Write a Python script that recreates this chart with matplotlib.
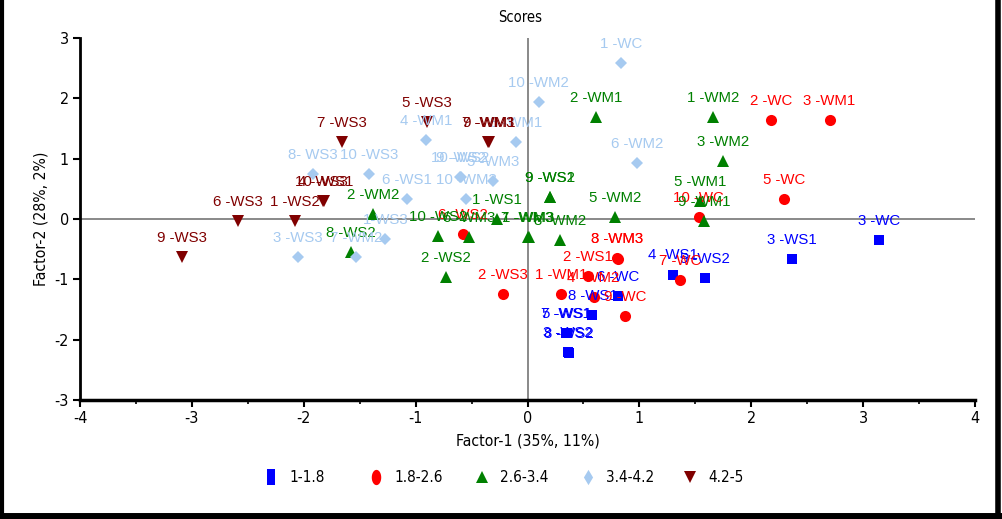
import matplotlib
matplotlib.use("Agg")
import matplotlib.pyplot as plt
from matplotlib.lines import Line2D
import numpy as np

plt.rcParams["axes.unicode_minus"] = False

# ---- data ----
blue_x = [3.14, 2.36, 1.30, 1.59, 0.81, 0.58, 0.35, 0.34, 0.37, 0.365]
blue_y = [-0.35, -0.66, -0.92, -0.98, -1.28, -1.59, -1.89, -1.89, -2.22, -2.21]
blue_lbl = ["3 -WC", "3 -WS1", "4 -WS1", "5 -WS2", "6 -WC", "8 -WS1",
            "5 -WS1", "7 -WS1", "8 -WS2", "3 -WS2"]

red_x = [2.18, 2.70, 2.29, 1.53, 1.36, 0.80, 0.805, 0.54, 0.30, 0.59, 0.87, -0.22, -0.58]
red_y = [1.64, 1.64, 0.33, 0.03, -1.01, -0.65, -0.655, -0.95, -1.24, -1.29, -1.61, -1.24, -0.25]
red_lbl = ["2 -WC", "3 -WM1", "5 -WC", "10 -WC", "7 -WC", "8 -WM3", "3 -WM3",
           "2 -WS1", "1 -WM1", "4 -WM2", "9 -WC", "2 -WS3", "6 -WS2"]

green_x = [0.61, 1.66, 1.75, 1.54, 1.58, 0.78, 0.20, 0.205, -0.27, -0.80, -0.52,
           0.00, 0.01, 0.29, -1.38, -1.58, -0.73]
green_y = [1.69, 1.69, 0.96, 0.30, -0.03, 0.03, 0.36, 0.36, 0.00, -0.28, -0.30,
           -0.30, -0.30, -0.35, 0.08, -0.55, -0.96]
green_lbl = ["2 -WM1", "1 -WM2", "3 -WM2", "5 -WM1", "9 -WM1", "5 -WM2", "9 -WS2",
             "9 -WS1", "1 -WS1", "10 -WS2", "6 -WM3", "7 -WM3", "1 -WM3", "8 -WM2",
             "2 -WM2", "8 -WS2", "2 -WS2"]

lblue_x = [0.84, 0.10, -0.10, -0.91, 0.98, -1.92, -1.42, -1.08, -0.60, -0.59,
           -0.31, -0.55, -1.27, -2.05, -1.53]
lblue_y = [2.59, 1.94, 1.28, 1.31, 0.93, 0.74, 0.74, 0.33, 0.70, 0.70,
           0.63, 0.33, -0.33, -0.63, -0.63]
lblue_lbl = ["1 -WC", "10 -WM2", "8 -WM1", "4 -WM1", "6 -WM2", "8- WS3", "10 -WS3",
             "6 -WS1", "10 -WS2", "9 -WS2", "5 -WM3", "10 -WM3", "1-WS3", "3 -WS3",
             "7 -WM2"]

dred_x = [-3.09, -2.59, -2.08, -1.82, -1.83, -1.66, -0.90, -0.34, -0.35]
dred_y = [-0.63, -0.04, -0.03, 0.30, 0.30, 1.28, 1.61, 1.27, 1.27]
dred_lbl = ["9 -WS3", "6 -WS3", "1 -WS2", "10 -WS1", "4 -WS3", "7 -WS3",
            "5 -WS3", "9 -WM1", "7 -WM3"]

legend_labels = ["1-1.8", "1.8-2.6", "2.6-3.4", "3.4-4.2", "4.2-5"]
x_ticks = [-4, -3, -2, -1, 0, 1, 2, 3, 4]
y_ticks = [-3, -2, -1, 0, 1, 2, 3]

# ---- styles ----
LBL_FONT = ["Liberation Sans", "DejaVu Sans"]
AX_FONT = ["Liberation Sans Narrow", "DejaVu Sans"]
AX_KW = dict(family=AX_FONT, stretch="condensed")

# tall legend markers (reference legend glyphs are vertically stretched)
t = np.linspace(0, 2 * np.pi, 40)
tall_rect = [(-0.55, -1), (0.55, -1), (0.55, 1), (-0.55, 1), (-0.55, -1)]
tall_ell = list(zip(0.62 * np.cos(t), np.sin(t)))
tall_dia = [(0, -1), (0.6, 0), (0, 1), (-0.6, 0), (0, -1)]

groups = [
    (blue_x, blue_y, blue_lbl, "#0000FF", "s", 7, tall_rect, 11),
    (red_x, red_y, red_lbl, "#FF0000", "o", 8, tall_ell, 11),
    (green_x, green_y, green_lbl, "#008000", "^", 8, "^", 8.5),
    (lblue_x, lblue_y, lblue_lbl, "#A6CAF0", "D", 6, tall_dia, 11),
    (dred_x, dred_y, dred_lbl, "#800000", "v", 8, "v", 8.5),
]

fig = plt.figure(figsize=(10.02, 5.19), dpi=100)
ax = fig.add_axes([80 / 1002, 1 - 400 / 519, (975 - 80) / 1002, (400 - 38) / 519])

ax.axhline(0, color="#808080", lw=1.3, zorder=1)
ax.axvline(0, color="#808080", lw=1.3, zorder=1)

for xs, ys, lbls, col, mk, ms, _, _ in groups:
    ax.plot(xs, ys, linestyle="none", marker=mk, color=col, ms=ms,
            markeredgewidth=0, zorder=3)
    for x, y, txt in zip(xs, ys, lbls):
        ax.annotate(txt, (x, y), xytext=(0, 13.8), textcoords="offset points",
                    ha="center", va="center", color=col, fontsize=10.8,
                    family=LBL_FONT, zorder=4)

ax.set_xlim(-4, 4)
ax.set_ylim(-3, 3)
ax.set_xticks(x_ticks)
ax.set_yticks(y_ticks)
ax.set_xticklabels([str(v) for v in x_ticks])
ax.set_yticklabels([str(v) for v in y_ticks])
ax.set_xticks([v + 0.5 for v in x_ticks[:-1]], minor=True)
for s in ["top", "right"]:
    ax.spines[s].set_visible(False)
ax.spines["left"].set_linewidth(2)
ax.spines["bottom"].set_linewidth(2.5)
ax.tick_params(axis="both", which="major", direction="out", length=5, width=1.5,
               labelsize=11.5, pad=3)
ax.tick_params(axis="x", which="minor", direction="out", length=3, width=1.2)
for lab in ax.get_xticklabels() + ax.get_yticklabels():
    lab.set_family(AX_FONT)
    lab.set_stretch("condensed")

ax.set_xlabel("Factor-1 (35%, 11%)", fontsize=11.3, labelpad=5, **AX_KW)
ax.set_ylabel("Factor-2 (28%, 2%)", fontsize=11.3, labelpad=4, **AX_KW)
fig.text(520 / 1002, 1 - 18 / 519, "Scores", ha="center", va="center",
         fontsize=10.5, **AX_KW)

# legend row, placed item by item
leg_x = [271, 376, 482, 588, 690]
leg_y = 1 - 477 / 519
for (xs, ys, lbls, col, mk, ms, lmk, lms), lx, txt in zip(groups, leg_x, legend_labels):
    fig.add_artist(Line2D([lx / 1002], [leg_y], transform=fig.transFigure,
                          linestyle="none", marker=lmk, ms=lms, color=col,
                          markeredgewidth=0))
    fig.text((lx + 18) / 1002, leg_y, txt, ha="left", va="center",
             fontsize=11, **AX_KW)

# figure frame
fig.add_artist(Line2D([2 / 1002, 2 / 1002], [0, 1], transform=fig.transFigure,
                      color="black", lw=3))
fig.add_artist(Line2D([0, 1], [3 / 519, 3 / 519], transform=fig.transFigure,
                      color="black", lw=5))
fig.add_artist(Line2D([998 / 1002, 998 / 1002], [0, 1], transform=fig.transFigure,
                      color="black", lw=4))

fig.savefig("out.png", dpi=100)
